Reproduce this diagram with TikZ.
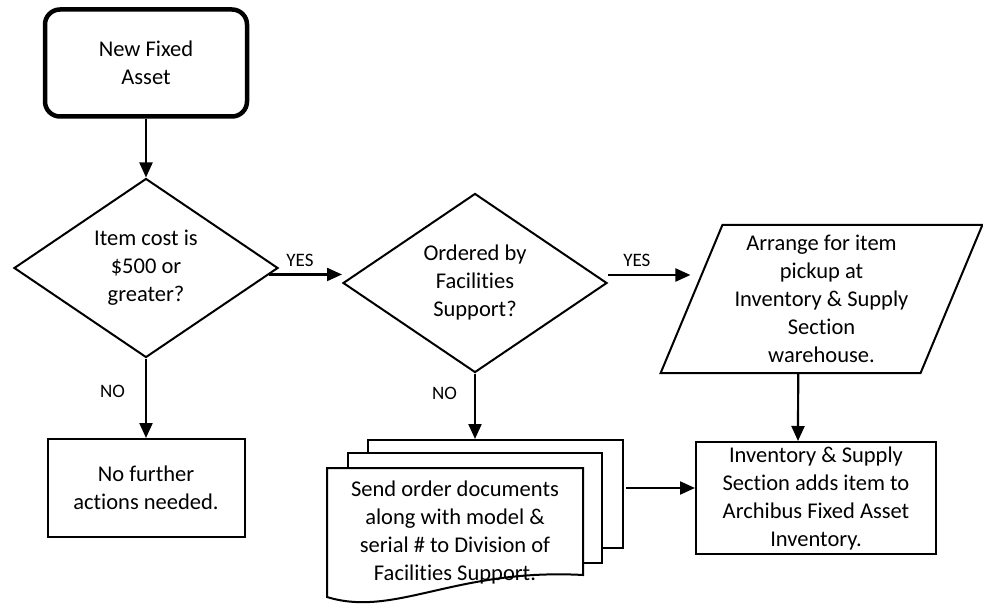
\documentclass[tikz,border=0pt]{standalone}
\usepackage{fontspec}
\setmainfont{Carlito}[Ligatures=NoCommon]
\usetikzlibrary{shapes.geometric, arrows.meta, positioning, calc}

\begin{document}
\begin{tikzpicture}[x=1pt, y=-1pt, node distance=210pt, every node/.style={font=\fontsize{22.5}{28}\selectfont}]
    \tikzstyle{start} = [rectangle, rounded corners=15pt, minimum width=202pt, minimum height=107pt, align=center, draw=black, line width=4.5pt, inner sep=0pt]
    \tikzstyle{process} = [rectangle, minimum width=197pt, minimum height=98pt, align=center, draw=black, line width=2pt, inner sep=0pt]
    \tikzstyle{decision} = [diamond, aspect=1.5, minimum width=264pt, minimum height=179pt, align=center, draw=black, line width=2pt, inner sep=0pt]
    \tikzstyle{io} = [trapezium, trapezium left angle=67, trapezium right angle=113, trapezium stretches=true, minimum width=322pt, minimum height=148pt, align=center, draw=black, line width=2pt, inner sep=0pt]
    \tikzstyle{page} = [rectangle, minimum width=255pt, minimum height=108pt, draw=black, fill=white, line width=2pt, inner sep=0pt]
    \tikzstyle{lbl} = [font=\fontsize{19}{22}\selectfont, inner sep=0pt]
    \tikzstyle{arrow} = [line width=2.2pt, -{Triangle[length=15pt, width=13pt]}]

    \useasboundingbox (0,0) rectangle (983,604);

    \node (start) [start] at (146,63) {New Fixed\\Asset};
    \node (cost) [decision, below of=start, yshift=5pt] {Item cost is\\\$500 or\\greater?};
    \node (none) [process, below of=cost, yshift=-10pt] {No further\\actions needed.};
    \node (ordered) [decision, right of=cost, xshift=119pt, yshift=-15pt] {Ordered by\\Facilities\\Support?};
    \node (pickup) [io, right of=ordered, xshift=136.5pt, yshift=-16pt] {Arrange for item\\pickup at\\Inventory \& Supply\\Section\\warehouse.};
    \node (archibus) [process, below of=pickup, xshift=-5.5pt, yshift=11pt, minimum width=240pt, minimum height=112pt] {Inventory \& Supply\\Section adds item to\\Archibus Fixed Asset\\Inventory.};

    % stack of documents
    \node (back) [page, below of=ordered, xshift=20.5pt, yshift=-1pt] {};
    \node (mid) [page, minimum width=254pt, minimum height=110pt] at ($(back)+(-20.5,14)$) {};
    \coordinate (docc) at ($(mid)+(-20,24)$);
    \begin{scope}[shift={(docc)}]
        \draw[line width=2pt, fill=white] (-128,-64) -- (128,-64) -- (128,43) .. controls (0,36) and (-60,86) .. (-128,65) -- cycle;
    \end{scope}
    \node (docs) [align=center] at (docc) {Send order documents\\along with model \&\\serial \# to Division of\\Facilities Support.};

    \draw [arrow] (start) -- (cost);
    \draw [arrow] (cost.-3) -- node[lbl, pos=0.42, above=7pt] {YES} (cost.-3 -| ordered.west);
    \draw [arrow] (cost.south) -- node[lbl, pos=0.42, left=20pt] {NO} (cost.south |- none.north);
    \coordinate (yes2) at ([yshift=8pt]ordered.east);
    \draw [arrow] (yes2) -- node[lbl, pos=0.35, above=7pt] {YES} (yes2 -| pickup.left side);
    \draw [arrow] (ordered.south) -- node[lbl, pos=0.3, left=17pt] {NO} (ordered.south |- back.north);
    \draw [arrow] ([xshift=8pt]pickup.bottom side) -- ([xshift=-18pt]archibus.north);
    \draw [arrow] ([xshift=2pt, yshift=6pt]back.east) -- ([yshift=10pt]archibus.west);
\end{tikzpicture}
\end{document}
